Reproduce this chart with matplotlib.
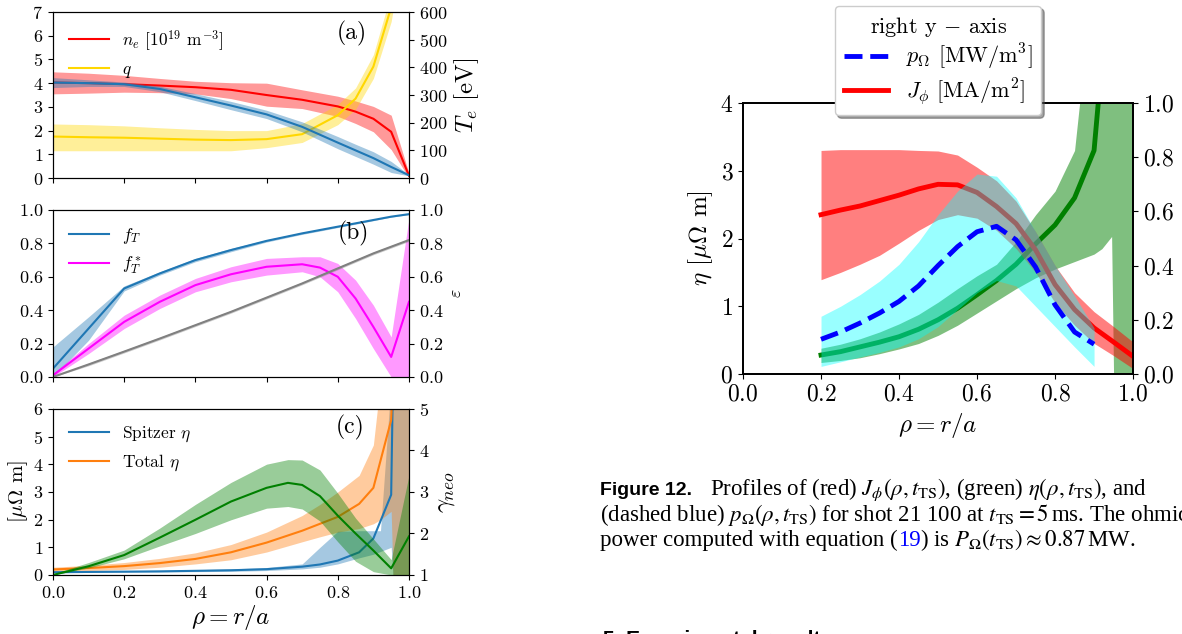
import matplotlib.pyplot as plt
import numpy as np

plt.rcParams['font.family'] = 'cmr10'
plt.rcParams['mathtext.fontset'] = 'cm'
plt.rcParams['axes.unicode_minus'] = False
plt.rcParams['axes.formatter.use_mathtext'] = True

# (a) density, safety factor (left) and electron temperature (right)
rho_a = [0, 0.1, 0.2, 0.3, 0.4, 0.5, 0.6, 0.7, 0.8, 0.85, 0.9, 0.95, 1.0]
n_e = [4.03, 4.0, 3.96, 3.9, 3.83, 3.72, 3.5, 3.3, 3.02, 2.8, 2.5, 1.95, 0.1]
n_e_hi = [4.48, 4.42, 4.33, 4.2, 4.08, 4.02, 4.0, 3.72, 3.45, 3.25, 3.02, 2.65, 0.2]
n_e_lo = [3.55, 3.58, 3.62, 3.6, 3.55, 3.35, 3.03, 2.93, 2.6, 2.3, 1.95, 1.2, 0.0]
q = [1.75, 1.72, 1.70, 1.66, 1.62, 1.60, 1.64, 1.85, 2.65, 3.35, 4.7, 7.2, 12.0]
q_hi = [2.28, 2.25, 2.2, 2.12, 2.05, 2.0, 2.0, 2.3, 3.1, 3.8, 5.2, 7.8, 13.0]
q_lo = [1.15, 1.15, 1.15, 1.15, 1.15, 1.15, 1.28, 1.5, 2.25, 2.9, 4.2, 6.6, 11.0]
T_e = [345, 343, 339, 322, 292, 262, 230, 185, 128, 100, 72, 40, 10]
T_e_hi = [363, 355, 347, 332, 305, 277, 245, 203, 150, 122, 95, 60, 12]
T_e_lo = [327, 331, 331, 312, 280, 247, 215, 167, 106, 78, 50, 20, 8]

# (b) trapped fractions (left) and inverse aspect ratio (right)
rho_b = [0, 0.1, 0.2, 0.3, 0.4, 0.5, 0.6, 0.7, 0.75, 0.8, 0.85, 0.9, 0.95, 1.0]
f_T = [0.05, 0.29, 0.53, 0.62, 0.70, 0.76, 0.815, 0.86, 0.88, 0.90, 0.92, 0.94, 0.96, 0.975]
f_T_hi = [0.18, 0.36, 0.545, 0.63, 0.71, 0.77, 0.822, 0.866, 0.886, 0.905, 0.925, 0.944, 0.963, 0.978]
f_T_lo = [0.0, 0.22, 0.515, 0.61, 0.69, 0.75, 0.808, 0.854, 0.874, 0.895, 0.915, 0.936, 0.957, 0.972]
f_Ts = [0.01, 0.17, 0.33, 0.45, 0.55, 0.615, 0.66, 0.675, 0.655, 0.60, 0.47, 0.30, 0.12, 0.45]
f_Ts_hi = [0.02, 0.20, 0.37, 0.49, 0.59, 0.66, 0.71, 0.72, 0.72, 0.68, 0.58, 0.43, 0.24, 0.95]
f_Ts_lo = [0.0, 0.14, 0.29, 0.41, 0.51, 0.57, 0.61, 0.63, 0.60, 0.51, 0.35, 0.17, 0.0, 0.0]
eps = [0, 0.075, 0.152, 0.23, 0.31, 0.39, 0.475, 0.56, 0.605, 0.65, 0.695, 0.74, 0.78, 0.82]
eps_hi = [0.005, 0.083, 0.16, 0.238, 0.318, 0.398, 0.483, 0.568, 0.613, 0.658, 0.703, 0.748, 0.788, 0.828]
eps_lo = [0, 0.067, 0.144, 0.222, 0.302, 0.382, 0.467, 0.552, 0.597, 0.642, 0.687, 0.732, 0.772, 0.812]

# (c) resistivities (left) and neoclassical correction (right)
rho_c = [0, 0.1, 0.2, 0.3, 0.4, 0.5, 0.6, 0.7, 0.75, 0.8, 0.86, 0.9, 0.92, 0.95, 0.955, 1.0]
spitzer = [0.10, 0.11, 0.12, 0.13, 0.15, 0.17, 0.21, 0.30, 0.38, 0.52, 0.82, 1.32, 1.95, 2.9, 7.0, 7.0]
spitzer_hi = [0.13, 0.14, 0.15, 0.17, 0.19, 0.22, 0.27, 0.40, 1.0, 1.58, 1.6, 1.6, 1.6, 7.0, 7.0, 7.0]
spitzer_lo = [0.08, 0.09, 0.10, 0.11, 0.12, 0.13, 0.16, 0.22, 0.28, 0.40, 0.62, 0.75, 0.85, 1.0, 0.0, 0.0]
total = [0.20, 0.25, 0.32, 0.43, 0.58, 0.82, 1.17, 1.60, 1.85, 2.10, 2.57, 3.15, 4.13, 5.6, 7.0, 7.0]
total_hi = [0.28, 0.35, 0.45, 0.60, 0.80, 1.10, 1.55, 2.15, 2.55, 3.0, 3.6, 4.7, 7.0, 7.0, 7.0, 7.0]
total_lo = [0.13, 0.16, 0.20, 0.28, 0.40, 0.55, 0.83, 1.20, 1.38, 1.55, 1.68, 1.85, 2.0, 2.3, 0.0, 0.0]
rho_g = [0, 0.1, 0.2, 0.3, 0.4, 0.5, 0.6, 0.66, 0.7, 0.75, 0.8, 0.85, 0.9, 0.95, 1.0]
gamma_neo = [1.0, 1.21, 1.48, 1.90, 2.33, 2.77, 3.10, 3.22, 3.17, 2.90, 2.43, 2.0, 1.59, 1.16, 1.93]
gamma_hi = [1.03, 1.30, 1.60, 2.13, 2.70, 3.23, 3.67, 3.78, 3.77, 3.53, 2.97, 2.37, 1.87, 1.37, 3.40]
gamma_lo = [1.0, 1.17, 1.39, 1.70, 2.0, 2.33, 2.61, 2.65, 2.59, 2.30, 1.80, 1.33, 1.08, 1.0, 1.0]

# shot 21100 at t_TS = 5 ms: eta (left), J_phi and p_Omega (right)
rho_eta = [0.2, 0.25, 0.3, 0.35, 0.4, 0.45, 0.5, 0.55, 0.6, 0.65, 0.7, 0.75, 0.8, 0.85, 0.9, 0.92, 0.945, 0.95, 1.0]
eta = [0.28, 0.33, 0.40, 0.47, 0.55, 0.66, 0.80, 0.97, 1.17, 1.38, 1.62, 1.92, 2.2, 2.6, 3.3, 4.6, 6.0, 6.0, 6.0]
eta_hi = [0.38, 0.44, 0.52, 0.62, 0.74, 0.88, 1.06, 1.26, 1.45, 1.62, 1.95, 2.35, 2.7, 3.3, 6.0, 6.0, 6.0, 6.0, 6.0]
eta_lo = [0.17, 0.2, 0.24, 0.3, 0.37, 0.45, 0.57, 0.72, 0.9, 1.08, 1.26, 1.42, 1.55, 1.66, 1.77, 1.85, 2.03, 0.0, 0.0]
rho_j = [0.2, 0.25, 0.3, 0.35, 0.4, 0.45, 0.5, 0.55, 0.6, 0.65, 0.7, 0.75, 0.8, 0.85, 0.9, 0.95, 1.0]
J_phi = [0.588, 0.605, 0.62, 0.64, 0.66, 0.683, 0.70, 0.698, 0.67, 0.618, 0.555, 0.458, 0.33, 0.238, 0.17, 0.118, 0.065]
J_hi = [0.825, 0.828, 0.828, 0.828, 0.828, 0.825, 0.823, 0.808, 0.763, 0.713, 0.638, 0.525, 0.40, 0.30, 0.23, 0.175, 0.118]
J_lo = [0.348, 0.375, 0.405, 0.438, 0.483, 0.53, 0.57, 0.588, 0.575, 0.53, 0.463, 0.375, 0.263, 0.18, 0.113, 0.068, 0.02]
rho_p = [0.2, 0.25, 0.3, 0.35, 0.4, 0.45, 0.5, 0.55, 0.6, 0.65, 0.7, 0.75, 0.8, 0.85, 0.9]
p_ohm = [0.128, 0.155, 0.188, 0.225, 0.268, 0.325, 0.40, 0.47, 0.525, 0.545, 0.495, 0.395, 0.255, 0.155, 0.11]
p_hi = [0.213, 0.25, 0.293, 0.343, 0.405, 0.488, 0.588, 0.675, 0.738, 0.73, 0.65, 0.525, 0.40, 0.288, 0.17]
p_lo = [0.028, 0.045, 0.063, 0.08, 0.1, 0.13, 0.175, 0.238, 0.3, 0.345, 0.325, 0.25, 0.175, 0.1, 0.028]

ticks = np.arange(0, 1.01, 0.2)
TAB_BLUE = '#1f77b4'
TAB_ORANGE = '#ff7f0e'


def band(ax, x, y, lo, hi, color, alpha=0.4, lw=1.5, **kw):
    ax.fill_between(x, lo, hi, color=color, alpha=alpha, lw=0)
    return ax.plot(x, y, color=color, lw=lw, **kw)[0]


fig = plt.figure(figsize=(11.82, 6.34), dpi=100)
ax_a = fig.add_axes([0.0448, 0.7192, 0.3012, 0.2618])
ax_b = fig.add_axes([0.0448, 0.4054, 0.3012, 0.2634])
ax_c = fig.add_axes([0.0448, 0.0931, 0.3012, 0.2618])
ax_d = fig.add_axes([0.6286, 0.4101, 0.33, 0.4274])

# panel (a)
band(ax_a, rho_a, n_e, n_e_lo, n_e_hi, 'red', label=r'$n_e$ [10$^{19}$ m$^{-3}$]')
band(ax_a, rho_a, q, q_lo, q_hi, 'gold', label=r'$q$')
ax_a.set_ylim(0, 7)
ax_a.set_yticks(range(0, 8))
ax_a.legend(loc='upper left', frameon=False, fontsize=12.5, handlelength=2.3)
ax_a2 = ax_a.twinx()
band(ax_a2, rho_a, T_e, T_e_lo, T_e_hi, TAB_BLUE)
ax_a2.set_ylim(0, 600)
ax_a2.set_yticks(range(0, 601, 100))
ax_a2.set_ylabel(r'$T_e$ [eV]', fontsize=18)
ax_a2.text(0.84, 0.873, '(a)', transform=ax_a2.transAxes, fontsize=17, ha='center', va='center')

# panel (b)
band(ax_b, rho_b, f_T, f_T_lo, f_T_hi, TAB_BLUE, label=r'$f_T$')
band(ax_b, rho_b, f_Ts, f_Ts_lo, f_Ts_hi, 'magenta', label=r'$f_T^*$')
ax_b.set_ylim(0, 1)
ax_b.set_yticks(ticks)
ax_b.legend(loc='upper left', frameon=False, fontsize=12.5, handlelength=2.3)
ax_b2 = ax_b.twinx()
band(ax_b2, rho_b, eps, eps_lo, eps_hi, 'gray')
ax_b2.set_ylim(0, 1)
ax_b2.set_yticks(ticks)
ax_b2.set_ylabel(r'$\varepsilon$', fontsize=13)
ax_b2.text(0.843, 0.862, '(b)', transform=ax_b2.transAxes, fontsize=17, ha='center', va='center')

# panel (c)
band(ax_c, rho_c, spitzer, spitzer_lo, spitzer_hi, TAB_BLUE, label=r'Spitzer $\eta$')
band(ax_c, rho_c, total, total_lo, total_hi, TAB_ORANGE, label=r'Total $\eta$')
ax_c.set_ylim(0, 6)
ax_c.set_yticks(range(0, 7))
ax_c.set_ylabel(r'[$\mu\Omega$ m]', fontsize=15, labelpad=2)
ax_c.set_xlabel(r'$\rho = r/a$', fontsize=18, labelpad=2)
ax_c.legend(loc='upper left', frameon=False, fontsize=12.5, handlelength=2.3)
ax_c2 = ax_c.twinx()
band(ax_c2, rho_g, gamma_neo, gamma_lo, gamma_hi, 'green')
ax_c2.set_ylim(1, 5)
ax_c2.set_yticks([1, 2, 3, 4, 5])
ax_c2.set_ylabel(r'$\gamma_{neo}$', fontsize=18)
ax_c2.text(0.834, 0.886, '(c)', transform=ax_c2.transAxes, fontsize=17, ha='center', va='center')

for ax in (ax_a, ax_b, ax_c):
    ax.set_xlim(0, 1)
    ax.set_xticks(ticks)
    ax.tick_params(labelsize=13)
for ax in (ax_a2, ax_b2, ax_c2):
    ax.tick_params(labelsize=13)
ax_a.set_xticklabels([])
ax_b.set_xticklabels([])

# resistivity, current density and ohmic power density
band(ax_d, rho_eta, eta, eta_lo, eta_hi, 'green', alpha=0.5, lw=3.5)
ax_d.set_xlim(0, 1)
ax_d.set_ylim(0, 4)
ax_d.set_xticks(ticks)
ax_d.set_yticks([0, 1, 2, 3, 4])
ax_d.set_xlabel(r'$\rho = r/a$', fontsize=18)
ax_d.set_ylabel(r'$\eta$ [$\mu\Omega$ m]', fontsize=18)
ax_d2 = ax_d.twinx()
j_line = band(ax_d2, rho_j, J_phi, J_lo, J_hi, 'red', alpha=0.5, lw=3.5, label=r'$J_\phi$ [MA/m$^2$]')
# cyan band sits on top of the current profile
ax_d2.fill_between(rho_p, p_lo, p_hi, color='cyan', alpha=0.4, lw=0, zorder=2.5)
p_line, = ax_d2.plot(rho_p, p_ohm, color='blue', lw=3.5, ls='--', zorder=3,
                     label=r'$p_\Omega$ [MW/m$^3$]')
ax_d2.set_ylim(0, 1)
for ax in (ax_d, ax_d2):
    ax.tick_params(labelsize=17)
    for s in ax.spines.values():
        s.set_linewidth(1.3)
ax_d2.legend(handles=[p_line, j_line], title=r'right y $-$ axis', loc='upper center',
             bbox_to_anchor=(0.5, 1.358), borderaxespad=0, labelspacing=0.15,
             fontsize=16, title_fontsize=16, shadow=True, framealpha=1)

# caption text
page = fig.add_axes([0, 0, 1, 1], zorder=-1)
page.axis('off')
cap = dict(fontsize=16.5, va='baseline', family='Liberation Serif', math_fontfamily='stix')
t1 = fig.text(0.5076, 0.2192, 'Figure 12.', fontsize=14, va='baseline',
              family='Liberation Sans', weight='bold')
page.annotate(r'Profiles of (red) $J_\phi(\rho,t_{\rm TS})$, (green) $\eta(\rho,t_{\rm TS})$, and',
              xy=(1, 0.2192), xycoords=(t1, 'figure fraction'), xytext=(13, 0),
              textcoords='offset points', **cap)
fig.text(0.5076, 0.179, r'(dashed blue) $p_\Omega(\rho,t_{\rm TS})$ for shot 21 100 at '
         r'$t_{\rm TS} = 5\,$ms. The ohmic', **cap)
t3 = fig.text(0.5076, 0.1388, 'power computed with equation (', **cap)
t4 = page.annotate('19', xy=(1, 0.1388), xycoords=(t3, 'figure fraction'),
                   color='blue', **cap)
page.annotate(r') is $P_\Omega(t_{\rm TS}) \approx 0.87\,$MW.', xy=(1, 0.1388),
              xycoords=(t4, 'figure fraction'), **cap)
fig.text(0.5101, -0.018, '5. Experimental results', fontsize=15, va='baseline',
         family='Liberation Sans', weight='bold')

fig.savefig('out.png', dpi=100)
